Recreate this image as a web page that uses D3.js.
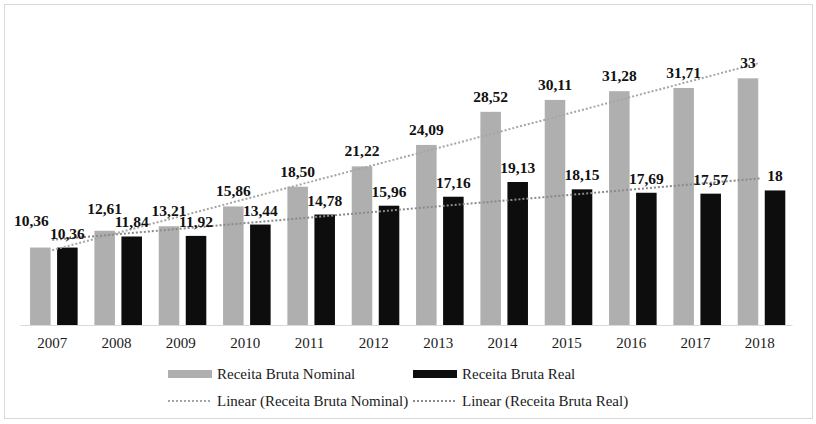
<!DOCTYPE html>
<html>
<head>
<meta charset="utf-8">
<script src="https://cdn.jsdelivr.net/npm/d3@7"></script>
<style>
  body { margin: 0; background: #fff; }
  text { font-family: "Liberation Serif", "Times New Roman", serif; }
</style>
</head>
<body>
<script>
// categories and the two series
var years = ["2007","2008","2009","2010","2011","2012","2013","2014","2015","2016","2017","2018"];
var nominal = [10.36, 12.61, 13.21, 15.86, 18.50, 21.22, 24.09, 28.52, 30.11, 31.28, 31.71, 33];
var real = [10.36, 11.84, 11.92, 13.44, 14.78, 15.96, 17.16, 19.13, 18.15, 17.69, 17.57, 18];
var seriesNames = ["Receita Bruta Nominal", "Receita Bruta Real"];

var width = 816, height = 424;
var colNom = "#afafaf", colReal = "#0d0d0d";
var trendNom = "#a6a6a6", trendReal = "#8a8a8a";

var svg = d3.select("body").append("svg")
    .attr("width", width)
    .attr("height", height);

// outer frame
svg.append("rect")
    .attr("x", 4.5).attr("y", 4.5)
    .attr("width", 808).attr("height", 414)
    .attr("fill", "none")
    .attr("stroke", "#d9d9d9");

var x = d3.scaleBand().domain(years).range([20, 792]).padding(0);
var x1 = d3.scaleBand().domain(["n","r"]).range([0, x.bandwidth()])
    .paddingInner(0.24).paddingOuter(0.31).align(0.6);
var y = d3.scaleLinear().domain([0, 40]).range([325, 26]);

var fmt = function(v){
    return Number.isInteger(v) ? String(v) : v.toFixed(2).replace(".", ",");
};

// bars
var g = svg.append("g");
g.selectAll("rect.nom").data(nominal).enter().append("rect")
    .attr("class", "nom")
    .attr("x", function(d,i){ return x(years[i]) + x1("n"); })
    .attr("y", function(d){ return y(d); })
    .attr("width", x1.bandwidth())
    .attr("height", function(d){ return y(0) - y(d); })
    .attr("fill", colNom);
g.selectAll("rect.real").data(real).enter().append("rect")
    .attr("class", "real")
    .attr("x", function(d,i){ return x(years[i]) + x1("r"); })
    .attr("y", function(d){ return y(d); })
    .attr("width", x1.bandwidth())
    .attr("height", function(d){ return y(0) - y(d); })
    .attr("fill", colReal);

// category axis
var xAxis = svg.append("g")
    .attr("transform", "translate(0," + y(0) + ")")
    .call(d3.axisBottom(x).tickSize(0).tickPadding(12));
xAxis.select(".domain").attr("stroke", "#d9d9d9");
xAxis.selectAll("text")
    .attr("font-size", "15px")
    .attr("fill", "#1a1a1a")
    .style("font-family", "Liberation Serif, serif");

// linear trend lines (least squares over category index)
function linfit(vals){
    var n = vals.length, mx = (n + 1) / 2, my = d3.mean(vals);
    var sxy = 0, sxx = 0;
    vals.forEach(function(v,i){ sxy += (i + 1 - mx) * (v - my); sxx += (i + 1 - mx) * (i + 1 - mx); });
    var b = sxy / sxx;
    return function(k){ return my + b * (k - mx); };
}
var line = d3.line()
    .x(function(d){ return x(d[0]) + x.bandwidth() / 2; })
    .y(function(d){ return y(d[1]); });
[[nominal, trendNom], [real, trendReal]].forEach(function(s){
    var f = linfit(s[0]);
    var pts = [[years[0], f(1)], [years[years.length - 1], f(years.length)]];
    svg.append("path")
        .attr("d", line(pts))
        .attr("fill", "none")
        .attr("stroke", s[1])
        .attr("stroke-width", 2)
        .attr("stroke-dasharray", "2 2");
});

// data labels
var lab = svg.append("g")
    .attr("font-size", "15.5px")
    .attr("font-weight", "bold")
    .attr("fill", "#111")
    .attr("text-anchor", "middle");
var realLabY = function(i){ return y(real[i]) - 9; };
// nominal label goes up when it would sit on top of the real one
var nomLabY = function(i){
    var yy = y(nominal[i]) - 10;
    if (realLabY(i) - yy < 10) yy = realLabY(i) - 13;
    return yy;
};
function same(i){ return Math.abs(nominal[i] - real[i]) < 0.5; }
lab.selectAll("text.nom").data(nominal).enter().append("text")
    .attr("x", function(d,i){ return x(years[i]) + x1("n") + x1.bandwidth() / 2 - (same(i) ? 9 : 0); })
    .attr("y", function(d,i){ return nomLabY(i); })
    .text(fmt);
lab.selectAll("text.real").data(real).enter().append("text")
    .attr("x", function(d,i){ return x(years[i]) + x1("r") + x1.bandwidth() / 2; })
    .attr("y", function(d,i){ return realLabY(i); })
    .text(fmt);

// legend
var legend = svg.append("g").attr("font-size", "15px").attr("fill", "#1a1a1a");
var legItems = [
    {kind: "bar", col: colNom, label: seriesNames[0], col0: 0, row: 0},
    {kind: "bar", col: colReal, label: seriesNames[1], col0: 1, row: 0},
    {kind: "trend", col: trendNom, label: "Linear (" + seriesNames[0] + ")", col0: 0, row: 1},
    {kind: "trend", col: trendReal, label: "Linear (" + seriesNames[1] + ")", col0: 1, row: 1}
];
legItems.forEach(function(d){
    var lx = 168 + d.col0 * 245, ly = 374 + d.row * 27;
    if (d.kind === "bar") {
        legend.append("rect").attr("x", lx).attr("y", ly - 4)
            .attr("width", 44).attr("height", 8).attr("fill", d.col);
    } else {
        legend.append("line").attr("x1", lx).attr("x2", lx + 44)
            .attr("y1", ly).attr("y2", ly)
            .attr("stroke", d.col).attr("stroke-width", 2)
            .attr("stroke-dasharray", "2 2");
    }
    legend.append("text").attr("x", lx + 49).attr("y", ly + 5).text(d.label);
});
</script>
</body>
</html>
